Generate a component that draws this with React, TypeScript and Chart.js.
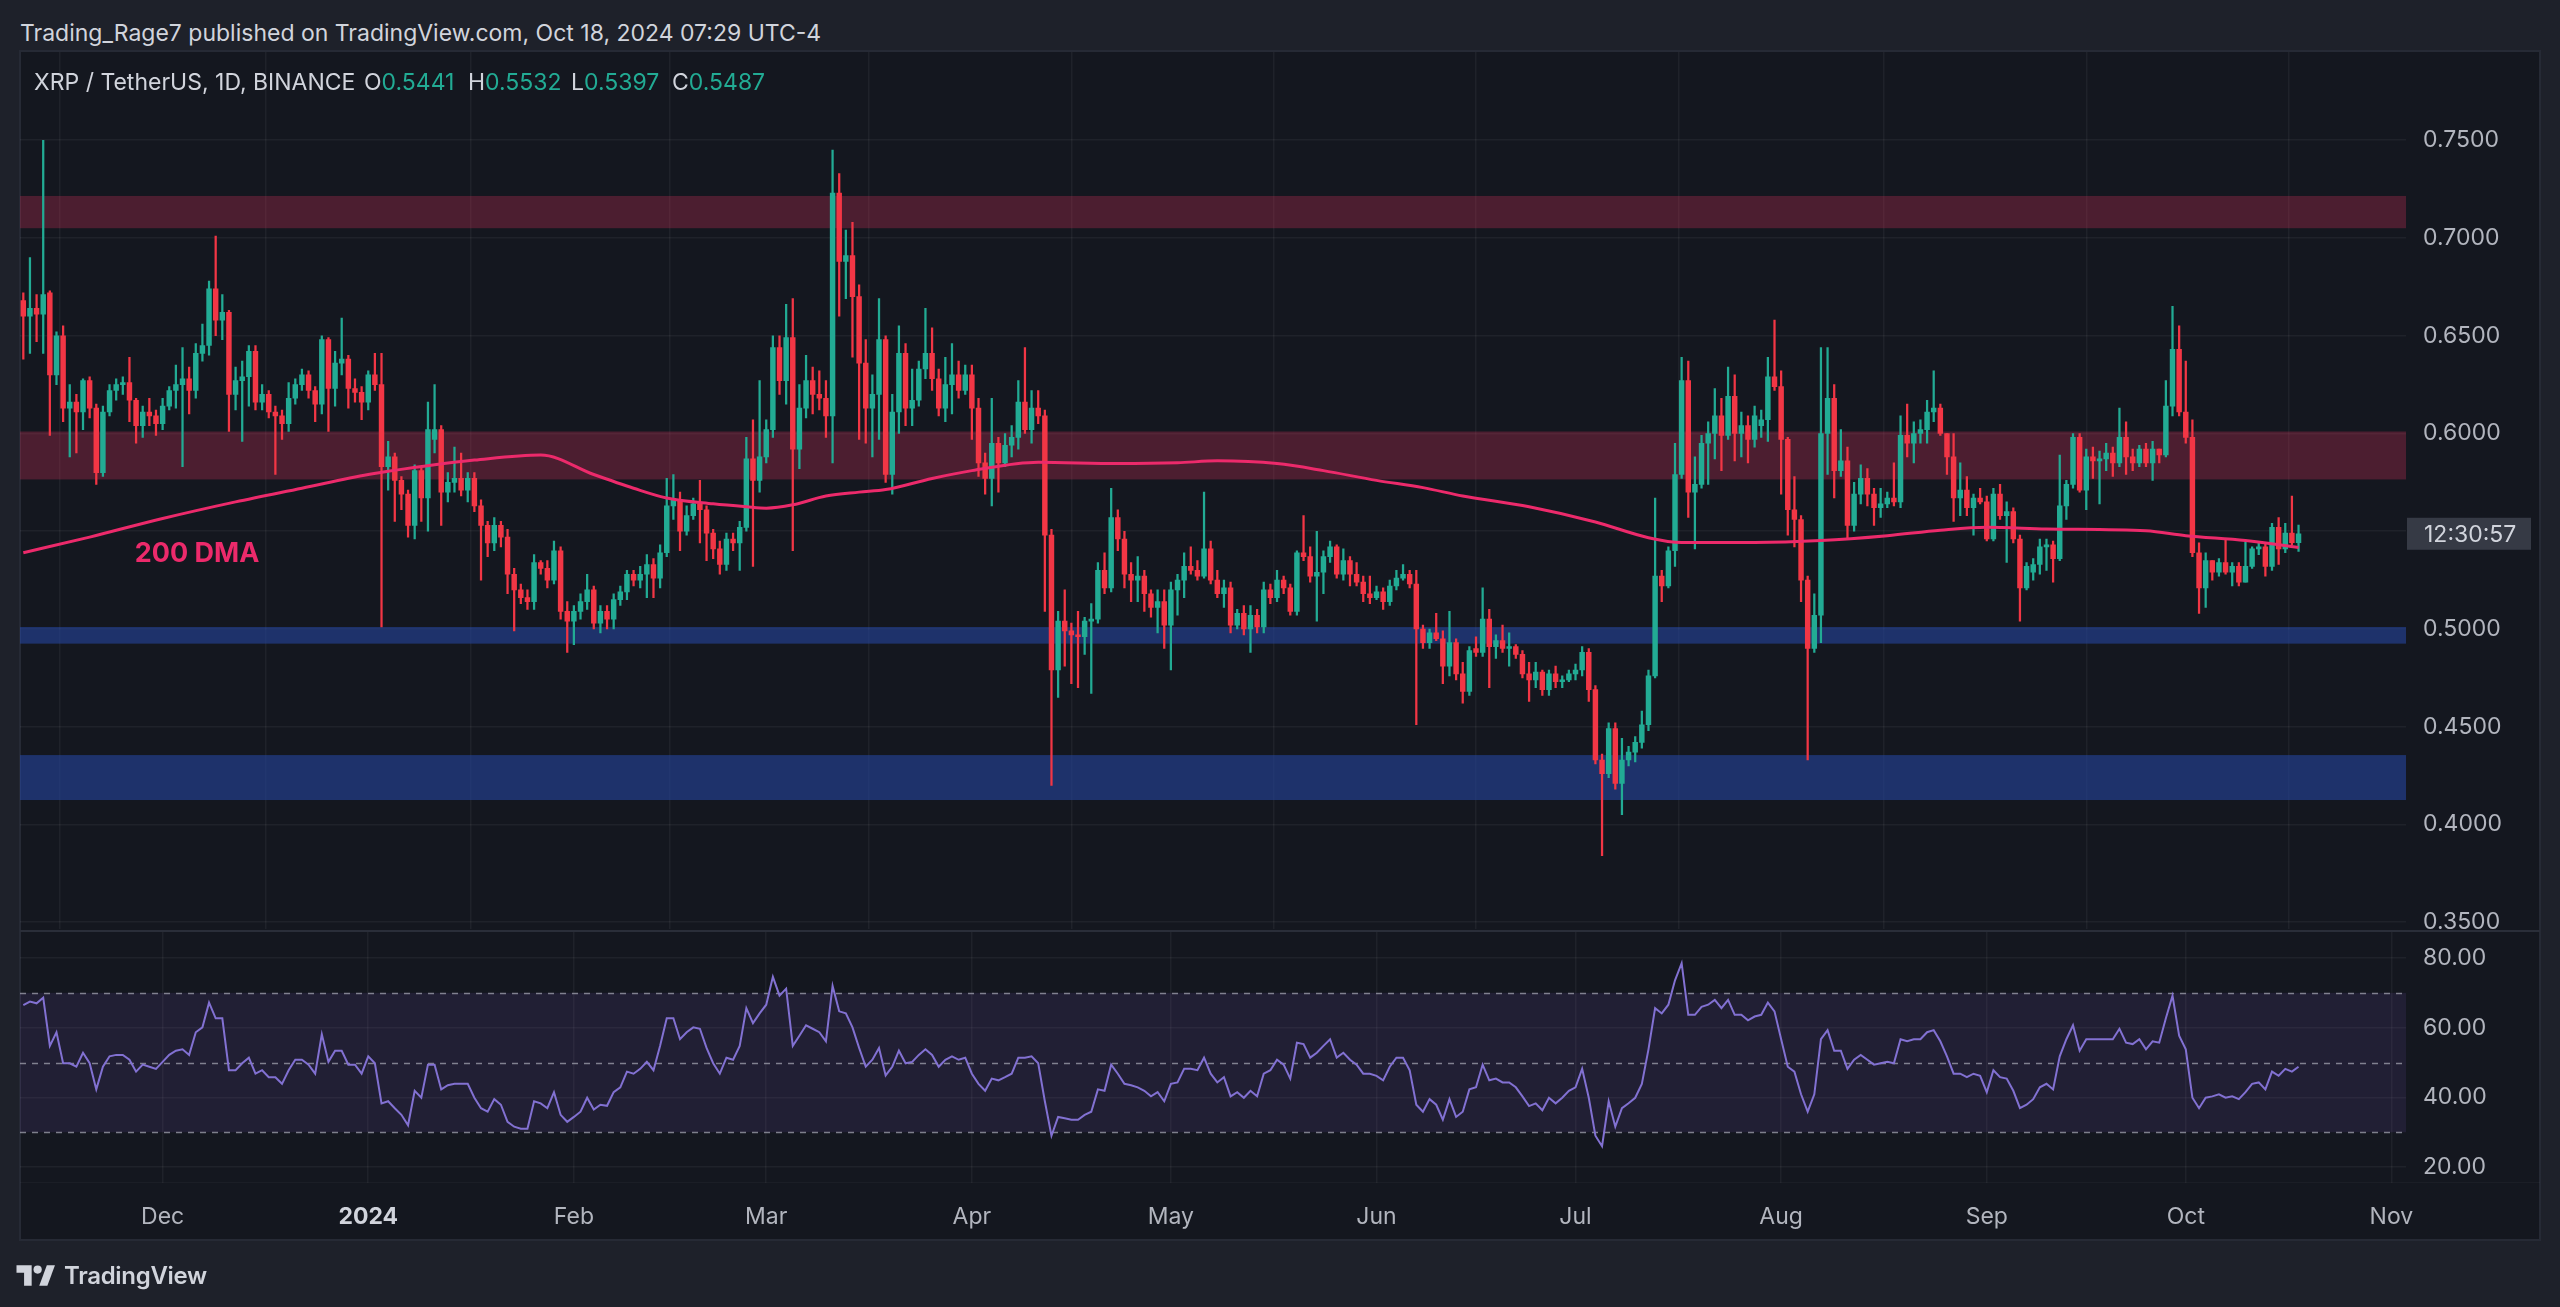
import React, { useEffect, useRef } from 'react';
import { Chart, registerables } from 'chart.js';

Chart.register(...registerables);

// ---------- DATA (daily candles from 2023-11-10 to 2024-10-18) ----------
const startDate = '2023-11-10';

const opens = [
  0.668,0.660,0.664,0.661,0.672,0.630,0.650,0.613,0.616,0.611,
  0.627,0.613,0.580,0.611,0.622,0.625,0.626,0.617,0.604,0.611,
  0.609,0.605,0.614,0.622,0.625,0.628,0.622,0.641,0.645,0.674,
  0.658,0.662,0.620,0.627,0.629,0.642,0.616,0.620,0.611,0.609,
  0.605,0.618,0.625,0.630,0.622,0.615,0.648,0.623,0.636,0.638,
  0.623,0.621,0.616,0.630,0.625,0.583,0.588,0.576,0.569,0.553,
  0.581,0.567,0.597,0.602,0.570,0.575,0.577,0.571,0.577,0.563,
  0.553,0.544,0.553,0.547,0.528,0.520,0.516,0.514,0.534,0.531,
  0.525,0.540,0.509,0.504,0.509,0.514,0.520,0.503,0.509,0.505,
  0.515,0.519,0.528,0.525,0.528,0.533,0.526,0.539,0.563,0.566,
  0.550,0.558,0.564,0.561,0.549,0.541,0.533,0.546,0.544,0.552,
  0.587,0.576,0.588,0.602,0.644,0.627,0.649,0.592,0.613,0.627,
  0.620,0.618,0.609,0.723,0.688,0.691,0.670,0.636,0.613,0.620,
  0.648,0.579,0.611,0.641,0.613,0.617,0.633,0.641,0.628,0.613,
  0.625,0.630,0.622,0.630,0.613,0.585,0.577,0.595,0.585,0.594,
  0.598,0.616,0.602,0.613,0.609,0.548,0.479,0.504,0.499,0.497,
  0.496,0.504,0.505,0.530,0.521,0.557,0.546,0.528,0.525,0.527,
  0.518,0.511,0.514,0.502,0.520,0.525,0.532,0.530,0.527,0.541,
  0.525,0.518,0.521,0.502,0.508,0.500,0.507,0.501,0.520,0.516,
  0.525,0.521,0.509,0.539,0.537,0.527,0.529,0.537,0.542,0.528,
  0.535,0.528,0.524,0.518,0.516,0.519,0.514,0.522,0.526,0.528,
  0.523,0.500,0.493,0.498,0.495,0.481,0.493,0.477,0.468,0.490,
  0.488,0.505,0.491,0.494,0.490,0.491,0.487,0.477,0.474,0.478,
  0.469,0.477,0.473,0.474,0.477,0.479,0.488,0.469,0.433,0.426,
  0.449,0.421,0.433,0.437,0.442,0.451,0.476,0.527,0.522,0.540,
  0.579,0.627,0.570,0.574,0.595,0.600,0.609,0.599,0.619,0.600,
  0.604,0.597,0.604,0.607,0.629,0.624,0.597,0.561,0.556,0.525,
  0.490,0.507,0.600,0.618,0.581,0.586,0.553,0.569,0.577,0.569,
  0.562,0.564,0.567,0.565,0.599,0.595,0.600,0.602,0.611,0.613,
  0.600,0.588,0.567,0.571,0.562,0.567,0.565,0.546,0.569,0.558,
  0.560,0.546,0.521,0.529,0.533,0.542,0.543,0.536,0.563,0.574,
  0.598,0.571,0.588,0.586,0.587,0.590,0.585,0.598,0.588,0.585,
  0.592,0.585,0.592,0.589,0.614,0.643,0.611,0.598,0.539,0.521,
  0.535,0.529,0.534,0.529,0.532,0.524,0.532,0.541,0.542,0.532,
  0.552,0.541,0.549,0.5441,
];

const highs = [
  0.672,0.690,0.671,0.750,0.673,0.652,0.655,0.625,0.620,0.628,
  0.629,0.615,0.614,0.625,0.628,0.629,0.639,0.618,0.614,0.618,
  0.612,0.618,0.624,0.635,0.644,0.634,0.646,0.656,0.678,0.701,
  0.671,0.663,0.634,0.637,0.645,0.645,0.625,0.622,0.614,0.612,
  0.626,0.628,0.633,0.632,0.624,0.650,0.649,0.642,0.659,0.640,
  0.628,0.624,0.632,0.641,0.641,0.596,0.590,0.578,0.571,0.584,
  0.583,0.616,0.625,0.604,0.580,0.593,0.590,0.580,0.580,0.566,
  0.555,0.557,0.555,0.551,0.531,0.523,0.520,0.538,0.535,0.535,
  0.545,0.542,0.514,0.512,0.518,0.528,0.522,0.512,0.512,0.518,
  0.522,0.530,0.530,0.532,0.538,0.536,0.543,0.577,0.579,0.570,
  0.563,0.567,0.576,0.563,0.551,0.545,0.549,0.549,0.555,0.598,
  0.607,0.627,0.607,0.650,0.650,0.666,0.669,0.625,0.640,0.634,
  0.632,0.627,0.745,0.733,0.704,0.708,0.676,0.648,0.630,0.669,
  0.650,0.620,0.655,0.646,0.633,0.637,0.664,0.654,0.633,0.639,
  0.646,0.637,0.635,0.635,0.618,0.590,0.618,0.598,0.600,0.604,
  0.627,0.644,0.622,0.622,0.612,0.551,0.509,0.520,0.503,0.509,
  0.506,0.513,0.534,0.539,0.572,0.561,0.550,0.534,0.537,0.530,
  0.520,0.520,0.520,0.524,0.528,0.539,0.542,0.535,0.570,0.545,
  0.530,0.525,0.524,0.510,0.512,0.512,0.510,0.524,0.523,0.530,
  0.527,0.523,0.540,0.558,0.542,0.550,0.540,0.545,0.543,0.541,
  0.537,0.534,0.527,0.527,0.522,0.521,0.525,0.530,0.533,0.530,
  0.530,0.502,0.500,0.508,0.499,0.509,0.495,0.483,0.491,0.496,
  0.521,0.510,0.497,0.502,0.498,0.492,0.489,0.483,0.483,0.479,
  0.479,0.481,0.476,0.479,0.482,0.491,0.490,0.471,0.436,0.452,
  0.452,0.444,0.440,0.445,0.458,0.479,0.567,0.530,0.542,0.595,
  0.639,0.637,0.588,0.599,0.606,0.623,0.618,0.634,0.630,0.611,
  0.609,0.614,0.612,0.639,0.658,0.632,0.598,0.578,0.558,0.527,
  0.518,0.644,0.644,0.625,0.602,0.593,0.575,0.584,0.582,0.572,
  0.572,0.570,0.585,0.609,0.615,0.606,0.607,0.617,0.632,0.615,
  0.600,0.600,0.585,0.578,0.569,0.572,0.568,0.572,0.574,0.565,
  0.562,0.548,0.534,0.536,0.546,0.546,0.545,0.589,0.576,0.600,
  0.600,0.592,0.593,0.591,0.595,0.593,0.613,0.606,0.592,0.594,
  0.595,0.596,0.592,0.627,0.665,0.655,0.637,0.607,0.544,0.539,
  0.535,0.536,0.546,0.534,0.534,0.545,0.542,0.544,0.544,0.554,
  0.557,0.554,0.568,0.5532,
];

const lows = [
  0.638,0.641,0.647,0.641,0.599,0.625,0.606,0.588,0.590,0.602,
  0.608,0.574,0.578,0.609,0.617,0.620,0.606,0.595,0.598,0.604,
  0.599,0.602,0.612,0.613,0.583,0.610,0.618,0.637,0.640,0.650,
  0.648,0.601,0.612,0.596,0.614,0.612,0.612,0.608,0.579,0.597,
  0.601,0.615,0.622,0.618,0.606,0.610,0.601,0.614,0.630,0.613,
  0.616,0.607,0.612,0.622,0.501,0.571,0.555,0.561,0.547,0.546,
  0.555,0.550,0.590,0.553,0.565,0.570,0.568,0.565,0.560,0.525,
  0.537,0.540,0.542,0.518,0.499,0.513,0.510,0.510,0.528,0.521,
  0.523,0.505,0.488,0.492,0.505,0.510,0.500,0.498,0.500,0.500,
  0.512,0.515,0.522,0.521,0.516,0.516,0.521,0.537,0.556,0.540,
  0.548,0.556,0.544,0.535,0.536,0.528,0.530,0.540,0.530,0.550,
  0.532,0.570,0.585,0.598,0.620,0.615,0.540,0.582,0.608,0.610,
  0.612,0.598,0.585,0.660,0.669,0.639,0.597,0.595,0.588,0.597,
  0.575,0.569,0.600,0.604,0.604,0.614,0.628,0.622,0.609,0.606,
  0.610,0.618,0.620,0.597,0.578,0.569,0.563,0.570,0.583,0.588,
  0.592,0.600,0.595,0.605,0.509,0.420,0.465,0.481,0.472,0.470,
  0.487,0.467,0.503,0.518,0.519,0.540,0.521,0.514,0.514,0.509,
  0.506,0.498,0.490,0.479,0.507,0.516,0.528,0.525,0.526,0.523,
  0.516,0.511,0.498,0.500,0.497,0.488,0.498,0.498,0.513,0.514,
  0.518,0.507,0.507,0.535,0.524,0.504,0.518,0.534,0.526,0.525,
  0.522,0.522,0.514,0.513,0.515,0.510,0.512,0.520,0.525,0.521,
  0.451,0.490,0.490,0.494,0.472,0.476,0.474,0.462,0.466,0.486,
  0.486,0.470,0.485,0.488,0.481,0.485,0.475,0.463,0.470,0.466,
  0.466,0.470,0.470,0.473,0.474,0.476,0.463,0.431,0.384,0.424,
  0.418,0.405,0.430,0.432,0.439,0.448,0.475,0.514,0.521,0.532,
  0.577,0.557,0.541,0.572,0.574,0.587,0.581,0.597,0.586,0.588,
  0.585,0.593,0.598,0.596,0.622,0.569,0.548,0.542,0.514,0.433,
  0.488,0.493,0.579,0.567,0.578,0.546,0.550,0.564,0.563,0.553,
  0.557,0.562,0.563,0.562,0.588,0.585,0.595,0.595,0.606,0.599,
  0.579,0.555,0.558,0.558,0.548,0.564,0.545,0.545,0.556,0.534,
  0.544,0.504,0.520,0.525,0.528,0.530,0.524,0.535,0.556,0.572,
  0.570,0.561,0.577,0.564,0.581,0.578,0.583,0.579,0.581,0.583,
  0.583,0.576,0.585,0.588,0.609,0.609,0.595,0.537,0.508,0.511,
  0.525,0.527,0.528,0.522,0.522,0.524,0.531,0.538,0.527,0.530,
  0.533,0.539,0.543,0.5397,
];

const closes = [
  0.660,0.664,0.661,0.671,0.630,0.650,0.613,0.616,0.611,0.627,
  0.613,0.580,0.611,0.622,0.625,0.626,0.617,0.604,0.611,0.609,
  0.605,0.614,0.622,0.625,0.628,0.622,0.641,0.645,0.674,0.658,
  0.662,0.620,0.627,0.629,0.642,0.616,0.620,0.611,0.609,0.605,
  0.618,0.625,0.630,0.622,0.615,0.648,0.623,0.636,0.638,0.623,
  0.621,0.616,0.630,0.625,0.583,0.588,0.576,0.569,0.553,0.581,
  0.567,0.602,0.602,0.570,0.575,0.577,0.571,0.577,0.563,0.553,
  0.544,0.553,0.547,0.528,0.520,0.516,0.514,0.534,0.531,0.525,
  0.540,0.509,0.504,0.509,0.514,0.520,0.503,0.509,0.505,0.515,
  0.519,0.528,0.525,0.528,0.533,0.526,0.539,0.563,0.566,0.550,
  0.558,0.564,0.561,0.549,0.541,0.533,0.546,0.544,0.552,0.587,
  0.576,0.588,0.602,0.644,0.627,0.649,0.592,0.613,0.627,0.620,
  0.618,0.609,0.723,0.688,0.691,0.670,0.636,0.613,0.620,0.648,
  0.579,0.611,0.641,0.613,0.617,0.633,0.641,0.628,0.613,0.625,
  0.630,0.622,0.630,0.613,0.585,0.577,0.595,0.585,0.594,0.598,
  0.616,0.602,0.613,0.609,0.548,0.479,0.504,0.499,0.497,0.496,
  0.504,0.505,0.530,0.521,0.557,0.546,0.528,0.525,0.527,0.518,
  0.511,0.514,0.502,0.520,0.525,0.532,0.530,0.527,0.541,0.525,
  0.518,0.521,0.502,0.508,0.500,0.507,0.501,0.520,0.516,0.525,
  0.521,0.509,0.539,0.537,0.527,0.529,0.537,0.542,0.528,0.535,
  0.528,0.524,0.518,0.516,0.519,0.514,0.522,0.526,0.528,0.523,
  0.500,0.493,0.498,0.495,0.481,0.493,0.477,0.468,0.489,0.488,
  0.505,0.491,0.494,0.490,0.491,0.487,0.477,0.474,0.478,0.469,
  0.477,0.473,0.474,0.477,0.479,0.488,0.469,0.433,0.426,0.449,
  0.421,0.433,0.437,0.442,0.451,0.476,0.527,0.522,0.540,0.579,
  0.627,0.570,0.574,0.595,0.600,0.609,0.599,0.619,0.600,0.604,
  0.597,0.609,0.607,0.629,0.624,0.597,0.561,0.556,0.525,0.490,
  0.507,0.600,0.618,0.581,0.586,0.553,0.569,0.577,0.569,0.562,
  0.564,0.567,0.565,0.599,0.595,0.600,0.602,0.611,0.613,0.600,
  0.588,0.567,0.571,0.562,0.567,0.565,0.546,0.569,0.558,0.560,
  0.546,0.521,0.532,0.533,0.542,0.543,0.536,0.563,0.574,0.598,
  0.571,0.588,0.586,0.587,0.590,0.585,0.598,0.588,0.585,0.592,
  0.585,0.592,0.589,0.614,0.643,0.611,0.598,0.539,0.521,0.535,
  0.529,0.534,0.529,0.532,0.524,0.532,0.541,0.542,0.532,0.552,
  0.541,0.549,0.5441,0.5487,
];

const rsiValues = [
  66.5,67.5,67.0,68.6,54.8,58.7,49.8,49.8,48.8,52.8,
  49.8,42.3,48.8,51.8,52.2,52.2,50.8,47.4,49.4,48.8,
  48.2,50.2,52.2,53.4,53.8,52.2,58.7,60.1,67.2,62.7,
  62.7,47.8,47.8,49.8,51.4,46.8,47.8,45.8,45.8,43.9,
  47.8,50.8,50.8,49.4,46.8,58.1,50.2,53.4,53.4,49.4,
  49.4,46.8,51.8,49.8,38.3,38.9,36.9,35.0,32.0,41.9,
  39.9,49.4,49.4,42.3,43.5,43.9,43.9,43.9,39.9,36.9,
  35.9,39.5,37.9,33.0,31.6,31.0,31.0,38.9,38.3,36.9,
  41.5,35.0,33.0,34.4,35.9,39.9,36.5,37.9,37.6,41.5,
  42.9,47.4,46.8,48.2,50.2,47.8,54.8,62.7,62.7,56.7,
  58.7,60.1,59.7,54.2,49.8,46.8,51.4,50.8,54.8,65.6,
  61.3,64.1,66.6,74.6,69.2,71.2,54.8,57.7,60.7,59.7,
  58.7,56.1,72.0,64.7,64.1,60.1,54.2,48.8,50.8,54.2,
  46.3,48.8,53.4,49.8,50.2,52.2,53.8,52.2,48.8,50.8,
  51.8,50.8,51.4,46.8,43.9,41.9,45.4,44.9,45.8,46.8,
  51.4,51.4,51.8,49.8,38.9,29.0,34.4,34.0,33.6,33.6,
  35.0,35.9,42.3,41.9,49.4,46.8,43.9,43.5,42.9,41.9,
  40.3,41.5,38.9,43.9,44.3,48.2,48.2,47.8,51.4,46.8,
  44.3,45.8,40.3,41.5,39.9,41.9,40.3,46.8,47.8,50.8,
  49.4,45.4,55.7,55.3,51.4,52.8,54.8,56.7,51.4,52.8,
  50.8,49.4,46.8,46.8,46.2,44.9,48.8,51.4,51.4,47.8,
  37.9,35.9,39.5,37.9,33.6,39.5,34.4,35.9,42.3,42.9,
  49.4,44.9,45.4,44.3,44.3,42.9,40.3,37.5,38.3,36.3,
  39.9,38.3,39.9,41.9,42.9,48.2,39.9,29.0,26.0,38.9,
  31.6,36.9,38.3,39.9,43.9,53.8,65.6,64.1,66.6,73.6,
  78.5,63.7,63.7,66.0,66.6,68.0,65.6,68.0,63.7,63.7,
  62.1,63.2,63.7,67.2,64.7,56.7,48.8,47.4,40.9,35.9,
  40.9,56.7,59.3,53.4,53.4,48.2,50.8,52.2,50.8,49.4,
  49.8,50.2,49.8,56.7,56.1,56.7,56.7,58.7,59.3,56.1,
  51.8,46.8,46.8,45.8,46.8,46.2,41.5,47.8,45.8,45.4,
  41.9,36.9,37.9,39.5,42.9,43.9,42.3,51.8,56.7,60.7,
  53.4,56.7,56.7,56.7,56.7,56.7,59.7,55.7,55.3,56.7,
  53.8,56.1,55.7,62.7,69.2,57.7,53.8,39.9,36.9,39.9,
  40.3,40.9,39.9,40.3,39.5,41.5,43.9,44.3,42.3,47.4,
  46.2,48.2,47.4,48.8,
];

// 200-day moving average, read at these bar indexes
const dmaIndex = [0,10,21,32,42,52,62,68,78,86,92,97,104,109,112,116,121,126,130,137,143,153,165,174,180,189,196,204,211,217,227,237,245,250,261,271,281,289,296,305,320,326,335,343];
const dmaValues = [0.539,0.547,0.5565,0.565,0.572,0.579,0.584,0.5864,0.589,0.579,0.572,0.567,0.564,0.5625,0.5618,0.5635,0.568,0.570,0.5713,0.577,0.581,0.5853,0.5846,0.585,0.586,0.5846,0.581,0.576,0.5723,0.568,0.5625,0.5547,0.5467,0.5442,0.5442,0.5452,0.5477,0.5505,0.552,0.5512,0.5502,0.5477,0.5452,0.5417];

// Support / resistance zones (price ranges)
const zoneLow = [0.705, 0.5765, 0.4925, 0.4125];
const zoneHigh = [0.7215, 0.601, 0.501, 0.4355];
const zoneKind = ['res', 'res', 'sup', 'sup'];

const monthStarts = ['2023-12-01','2024-01-01','2024-02-01','2024-03-01','2024-04-01','2024-05-01','2024-06-01','2024-07-01','2024-08-01','2024-09-01','2024-10-01','2024-11-01'];
const monthLabels = ['Dec','2024','Feb','Mar','Apr','May','Jun','Jul','Aug','Sep','Oct','Nov'];
const priceTicks = [0.35,0.40,0.45,0.50,0.55,0.60,0.65,0.70,0.75];
const rsiTicks = [20,40,60,80];
const rsiLevels = [70, 50, 30];

const legendTitle = 'XRP / TetherUS, 1D, BINANCE';
const legendKeys = ['O','H','L','C'];
const legendVals = ['0.5441','0.5532','0.5397','0.5487'];
const headerText = 'Trading_Rage7 published on TradingView.com, Oct 18, 2024 07:29 UTC-4';
const countdownText = '12:30:57';

// ---------- STYLE ----------
const FONT = 'Inter, "Noto Sans", "DejaVu Sans", sans-serif';
const OUTER_BG = '#1e212a';
const PANE_BG = '#14171f';
const GRID = 'rgba(255,255,255,0.05)';
const UP = '#22ab94';
const DOWN = '#f23645';
const AXIS_TEXT = '#b2b5be';
const TEXT = '#d1d4dc';
const DMA_COLOR = '#ec2a6b';
const RSI_COLOR = '#8271d2';

const DAY = 86400000;
const dayIndex = (d: string) => Math.round((Date.parse(d) - Date.parse(startDate)) / DAY);
const monthIdx = monthStarts.map(dayIndex);
const X_MIN = -0.5;
const X_MAX = 359.2;

export default function App() {
  const priceRef = useRef<HTMLCanvasElement | null>(null);
  const rsiRef = useRef<HTMLCanvasElement | null>(null);

  useEffect(() => {
    document.body.style.margin = '0';
    document.body.style.background = OUTER_BG;
    const idx = closes.map((_, i) => i);
    const colors = idx.map((i) => (closes[i] >= opens[i] ? UP : DOWN));

    const zonesPlugin = {
      id: 'zones',
      beforeDatasetsDraw(chart: any) {
        const { ctx, chartArea, scales } = chart;
        ctx.save();
        zoneLow.forEach((lo, i) => {
          const yTop = scales.y.getPixelForValue(zoneHigh[i]);
          const yBot = scales.y.getPixelForValue(lo);
          ctx.fillStyle = zoneKind[i] === 'res' ? 'rgba(178,44,80,0.36)' : 'rgba(38,72,170,0.55)';
          ctx.fillRect(chartArea.left, yTop, chartArea.right - chartArea.left, yBot - yTop);
        });
        ctx.restore();
      },
      afterDatasetsDraw(chart: any) {
        const { ctx, chartArea, scales } = chart;
        ctx.save();
        // 200 DMA label
        ctx.fillStyle = DMA_COLOR;
        ctx.font = `bold 27px ${FONT}`;
        ctx.textBaseline = 'middle';
        ctx.textAlign = 'left';
        ctx.fillText('200 DMA', scales.x.getPixelForValue(16.8), scales.y.getPixelForValue(0.5384));
        // countdown label on price axis
        const yc = scales.y.getPixelForValue(closes[closes.length - 1]);
        ctx.fillStyle = '#363a45';
        ctx.fillRect(chartArea.right + 1, yc - 16, 124, 32);
        ctx.fillStyle = TEXT;
        ctx.font = `23px ${FONT}`;
        ctx.fillText(countdownText, chartArea.right + 18, yc + 1);
        ctx.restore();
      },
    };

    const price = new Chart(priceRef.current as HTMLCanvasElement, {
      type: 'bar',
      data: {
        datasets: [
          {
            type: 'line',
            label: '200 DMA',
            data: dmaIndex.map((d, i) => ({ x: d, y: dmaValues[i] })),
            borderColor: DMA_COLOR,
            borderWidth: 3,
            pointRadius: 0,
            cubicInterpolationMode: 'monotone',
            order: 0,
          } as any,
          {
            label: 'body',
            data: idx.map((i) => ({ x: i, y: [opens[i], closes[i]] })),
            backgroundColor: colors,
            barThickness: 4.8,
            minBarLength: 1.5,
            grouped: false,
            order: 1,
          } as any,
          {
            label: 'wick',
            data: idx.map((i) => ({ x: i, y: [lows[i], highs[i]] })),
            backgroundColor: colors,
            barThickness: 1.6,
            grouped: false,
            order: 2,
          } as any,
        ],
      },
      options: {
        animation: false,
        responsive: false,
        maintainAspectRatio: false,
        layout: { padding: { left: 20, top: 52, right: 20, bottom: 29 } },
        plugins: { legend: { display: false }, tooltip: { enabled: false } },
        scales: {
          x: {
            type: 'linear',
            min: X_MIN,
            max: X_MAX,
            offset: false,
            grid: { color: GRID, drawTicks: false, lineWidth: 1.5 },
            border: { display: false },
            ticks: { display: false },
            afterBuildTicks: (s: any) => { s.ticks = monthIdx.map((v) => ({ value: v })); },
            afterFit: (s: any) => { s.height = 0; },
          },
          y: {
            type: 'linear',
            position: 'right',
            min: 0.34643,
            max: 0.79513,
            grid: { color: GRID, drawTicks: false, lineWidth: 1.5 },
            border: { display: false },
            ticks: {
              color: AXIS_TEXT,
              font: { family: FONT, size: 23 },
              padding: 17,
              callback: (v: any) => Number(v).toFixed(4),
            },
            afterBuildTicks: (s: any) => { s.ticks = priceTicks.map((v) => ({ value: v })); },
            afterFit: (s: any) => { s.width = 134; },
          },
        },
      } as any,
      plugins: [zonesPlugin],
    });

    const rsiPlugin = {
      id: 'rsiBand',
      beforeDatasetsDraw(chart: any) {
        const { ctx, chartArea, scales } = chart;
        ctx.save();
        const yTop = scales.y.getPixelForValue(rsiLevels[0]);
        const yBot = scales.y.getPixelForValue(rsiLevels[2]);
        ctx.fillStyle = 'rgba(126,87,194,0.13)';
        ctx.fillRect(chartArea.left, yTop, chartArea.right - chartArea.left, yBot - yTop);
        ctx.strokeStyle = 'rgba(160,163,175,0.75)';
        ctx.lineWidth = 1.5;
        ctx.setLineDash([6, 6]);
        rsiLevels.forEach((lv) => {
          const y = Math.round(scales.y.getPixelForValue(lv)) + 0.5;
          ctx.beginPath();
          ctx.moveTo(chartArea.left, y);
          ctx.lineTo(chartArea.right, y);
          ctx.stroke();
        });
        ctx.restore();
      },
    };

    const rsi = new Chart(rsiRef.current as HTMLCanvasElement, {
      type: 'line',
      data: {
        datasets: [
          {
            label: 'RSI',
            data: idx.map((i) => ({ x: i, y: rsiValues[i] })),
            borderColor: RSI_COLOR,
            borderWidth: 2,
            pointRadius: 0,
            tension: 0,
          },
        ],
      },
      options: {
        animation: false,
        responsive: false,
        maintainAspectRatio: false,
        layout: { padding: { left: 20, top: 31, right: 20, bottom: 67 } },
        plugins: { legend: { display: false }, tooltip: { enabled: false } },
        scales: {
          x: {
            type: 'linear',
            min: X_MIN,
            max: X_MAX,
            offset: false,
            grid: { color: GRID, drawTicks: false, lineWidth: 1.5 },
            border: { display: false },
            ticks: {
              autoSkip: false,
              maxRotation: 0,
              padding: 20,
              color: (c: any) => (c.tick && c.tick.label === '2024' ? TEXT : AXIS_TEXT),
              font: (c: any) => ({ family: FONT, size: 23, weight: c.tick && c.tick.label === '2024' ? 'bold' : 'normal' }),
              callback: (v: any) => {
                const k = monthIdx.indexOf(Number(v));
                return k >= 0 ? monthLabels[k] : '';
              },
            },
            afterBuildTicks: (s: any) => { s.ticks = monthIdx.map((v) => ({ value: v })); },
            afterFit: (s: any) => { s.height = 57; },
          },
          y: {
            type: 'linear',
            position: 'right',
            min: 15.44,
            max: 87.75,
            grid: { color: GRID, drawTicks: false, lineWidth: 1.5 },
            border: { display: false },
            ticks: {
              color: AXIS_TEXT,
              font: { family: FONT, size: 23 },
              padding: 17,
              callback: (v: any) => Number(v).toFixed(2),
            },
            afterBuildTicks: (s: any) => { s.ticks = rsiTicks.map((v) => ({ value: v })); },
            afterFit: (s: any) => { s.width = 134; },
          },
        },
      } as any,
      plugins: [rsiPlugin],
    });

    return () => {
      price.destroy();
      rsi.destroy();
    };
  }, []);

  const abs = (o: any) => ({ position: 'absolute', ...o }) as React.CSSProperties;

  return (
    <div style={abs({ left: 0, top: 0, width: 2560, height: 1307, background: OUTER_BG, overflow: 'hidden', fontFamily: FONT })}>
      <div style={abs({ left: 20, top: 18, height: 30, lineHeight: '30px', fontSize: 23, color: TEXT, whiteSpace: 'nowrap' })}>{headerText}</div>
      <div style={abs({ left: 19, top: 50, width: 2522, height: 1191, background: PANE_BG, border: '2px solid #262a35', boxSizing: 'border-box' })} />
      <canvas ref={priceRef} width={2560} height={960} style={abs({ left: 0, top: 0 })} />
      <canvas ref={rsiRef} width={2560} height={407} style={abs({ left: 0, top: 900 })} />
      <div style={abs({ left: 20, top: 930, width: 2520, height: 2, background: '#2a2e39' })} />
      <div style={abs({ left: 20, top: 1182, width: 2520, height: 1, background: 'rgba(255,255,255,0.03)' })} />
      <div style={abs({ left: 34, top: 67, height: 30, lineHeight: '30px', fontSize: 23, color: TEXT, whiteSpace: 'nowrap' })}>{legendTitle}</div>
      {legendKeys.map((k, i) => (
        <div key={k} style={abs({ left: [364, 468, 571, 672][i], top: 67, height: 30, lineHeight: '30px', fontSize: 23, whiteSpace: 'nowrap' })}>
          <span style={{ color: TEXT }}>{k}</span>
          <span style={{ color: UP }}>{legendVals[i]}</span>
        </div>
      ))}
      <div style={abs({ left: 16, top: 1261, height: 28, display: 'flex', alignItems: 'center', gap: 8 })}>
        <svg width="40" height="26" viewBox="0 0 36 24">
          <path d="M14 22H7V10H0V3h14v19Z" fill={TEXT} />
          <circle cx="19.5" cy="7" r="3.8" fill={TEXT} />
          <path d="M28.5 22h-7.5L28 3h7.5l-7 19Z" fill={TEXT} />
        </svg>
        <span style={{ fontSize: 24, fontWeight: 600, color: TEXT, letterSpacing: -0.3 }}>TradingView</span>
      </div>
    </div>
  );
}
